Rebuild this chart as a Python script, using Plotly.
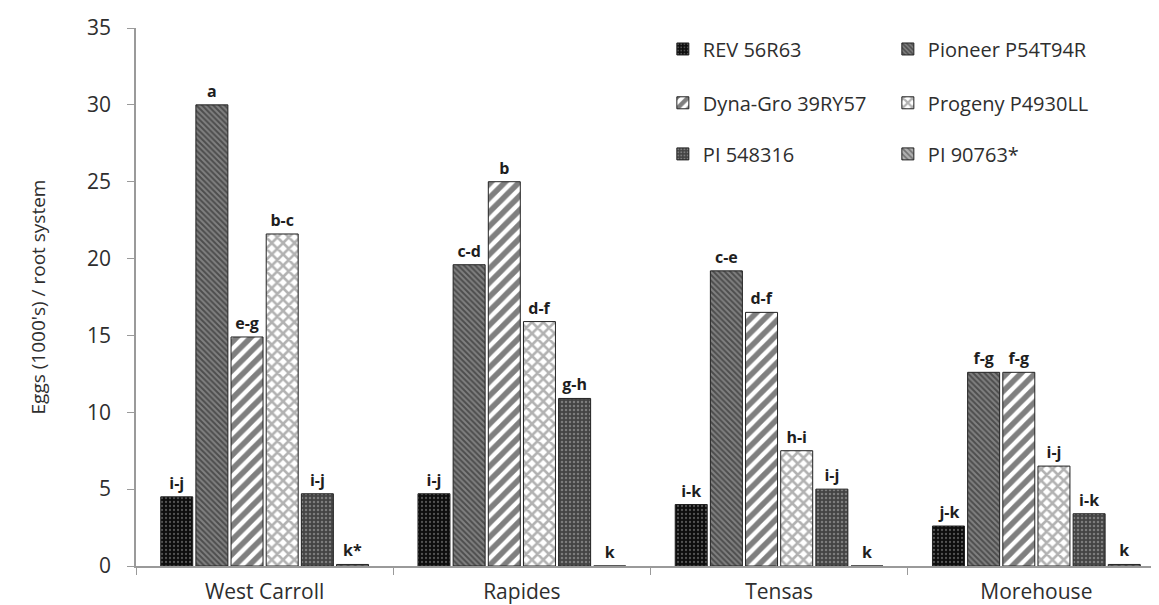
import plotly.graph_objects as go

locations = ["West Carroll", "Rapides", "Tensas", "Morehouse"]
varieties = ["REV 56R63", "Pioneer P54T94R", "Dyna-Gro 39RY57",
             "Progeny P4930LL", "PI 548316", "PI 90763*"]

rev = [4.5, 4.7, 4.0, 2.6]
pioneer = [30.0, 19.6, 19.2, 12.6]
dyna = [14.9, 25.0, 16.5, 12.6]
progeny = [21.6, 15.9, 7.5, 6.5]
pi548 = [4.7, 10.9, 5.0, 3.4]
pi907 = [0.1, 0.0, 0.0, 0.1]

rev_lbl = ["i-j", "i-j", "i-k", "j-k"]
pioneer_lbl = ["a", "c-d", "c-e", "f-g"]
dyna_lbl = ["e-g", "b", "d-f", "f-g"]
progeny_lbl = ["b-c", "d-f", "h-i", "i-j"]
pi548_lbl = ["i-j", "g-h", "i-j", "i-k"]
pi907_lbl = ["k*", "k", "k", "k"]

values = [rev, pioneer, dyna, progeny, pi548, pi907]
labels = [rev_lbl, pioneer_lbl, dyna_lbl, progeny_lbl, pi548_lbl, pi907_lbl]

styles = [
    dict(bg="#0d0d0d", fg="#9a9a9a", shape=".", size=4, sol=0.25),
    dict(bg="#808080", fg="#1a1a1a", shape="\\", size=4, sol=0.5),
    dict(bg="#ffffff", fg="#000000", shape="/", size=10, sol=0.55),
    dict(bg="#ffffff", fg="#666666", shape="x", size=8, sol=0.55),
    dict(bg="#444444", fg="#b5b5b5", shape=".", size=4, sol=0.3),
    dict(bg="#b0b0b0", fg="#333333", shape="\\", size=5, sol=0.4),
]

legend_ids = ["legend", "legend", "legend2", "legend2", "legend3", "legend3"]

FONT = "Open Sans"

fig = go.Figure()
for i, name in enumerate(varieties):
    s = styles[i]
    fig.add_trace(go.Bar(
        x=locations, y=values[i], name=name,
        text=labels[i], textposition="outside", cliponaxis=False,
        constraintext="none",
        textfont=dict(family=FONT, size=16, color="#1e1e1e", weight="bold"),
        marker=dict(
            color=s["bg"],
            line=dict(color="#222222", width=1),
            pattern=dict(shape=s["shape"], fgcolor=s["fg"], bgcolor=s["bg"],
                         size=s["size"], solidity=s["sol"], fillmode="overlay"),
        ),
        legend=legend_ids[i],
    ))

leg_common = dict(orientation="h", xanchor="left", yanchor="middle",
                  x=0.512, entrywidth=180, entrywidthmode="pixels",
                  font=dict(family=FONT, size=20, color="#2e2e2e"),
                  bgcolor="rgba(0,0,0,0)", itemwidth=30)

fig.update_layout(
    width=1159, height=605,
    margin=dict(l=128, r=2, t=20, b=47),
    paper_bgcolor="white", plot_bgcolor="white",
    barmode="group", bargap=0.18, bargroupgap=0.09,
    font=dict(family=FONT, color="#2e2e2e"),
    legend=dict(**leg_common, y=0.961),
    legend2=dict(**leg_common, y=0.861),
    legend3=dict(**leg_common, y=0.766),
    xaxis=dict(showline=True, linecolor="#9a9a9a", linewidth=1.5,
               ticks="outside", tickson="boundaries", ticklen=7, tickcolor="#9a9a9a",
               ticklabelstandoff=6,
               tickfont=dict(family=FONT, size=21, color="#2e2e2e"), showgrid=False),
    yaxis=dict(range=[0, 35], dtick=5, showline=True, linecolor="#9a9a9a",
               linewidth=1.5, ticks="outside", ticklen=7, tickcolor="#9a9a9a",
               ticklabelstandoff=12, automargin=False,
               tickfont=dict(family=FONT, size=21, color="#2e2e2e"), showgrid=False,
               zeroline=False,
               title=dict(text="Eggs (1000's) / root system",
                          font=dict(family=FONT, size=19, color="#2e2e2e"),
                          standoff=36)),
)

fig.write_html("out.html")
